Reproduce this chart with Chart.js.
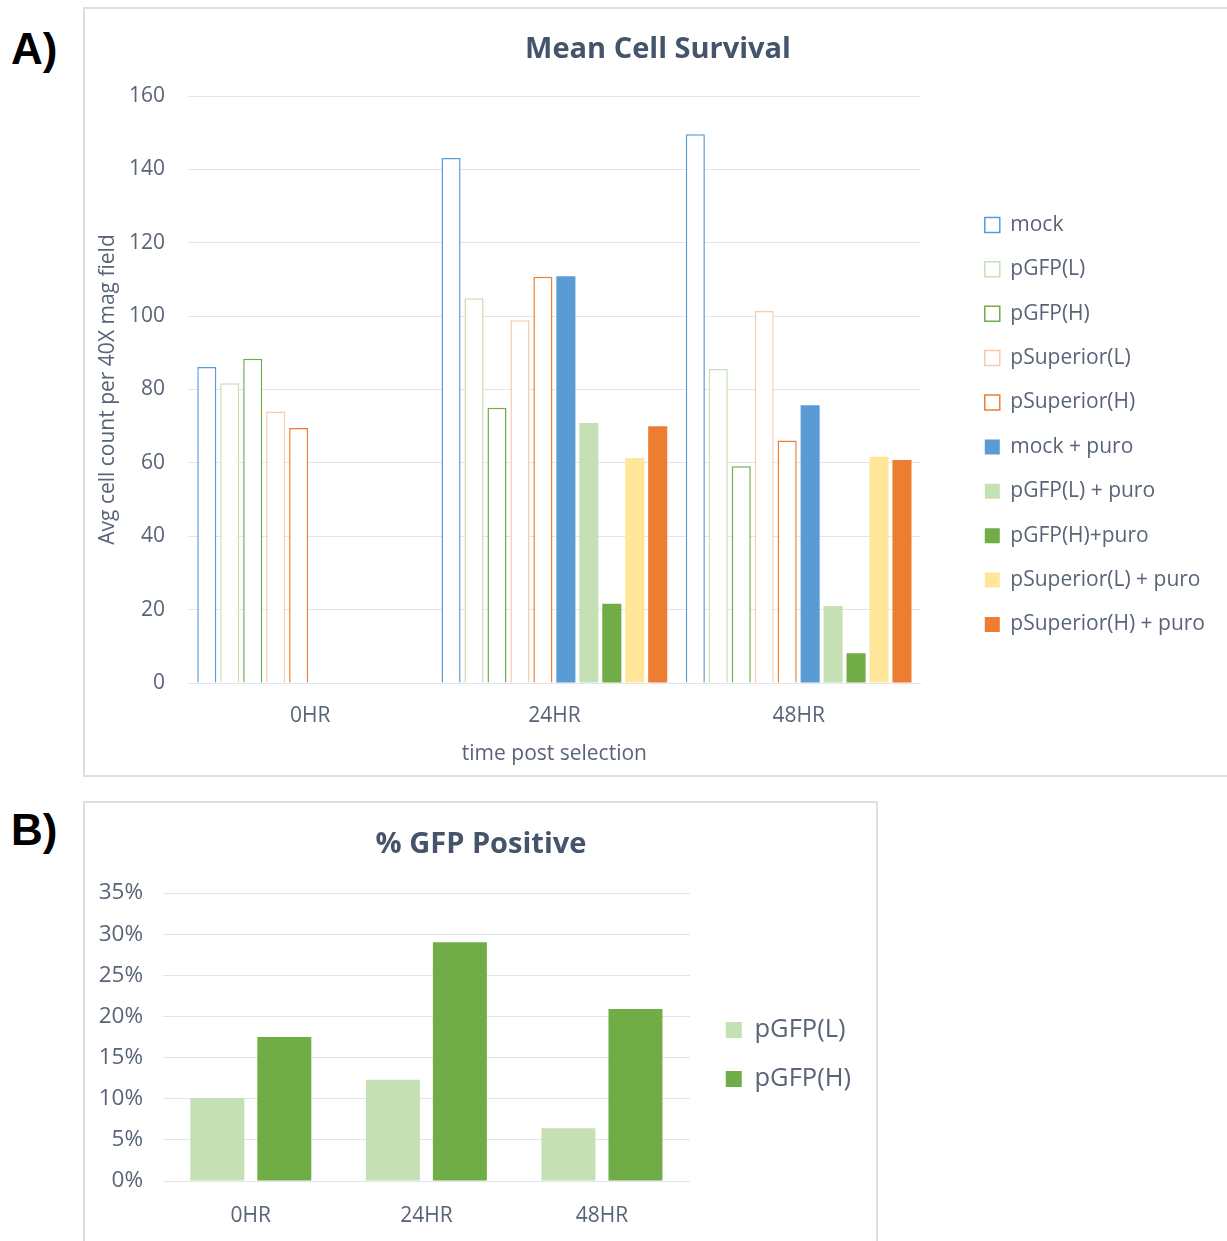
<!DOCTYPE html>
<html>
<head>
<meta charset="utf-8">
<script src="https://cdn.jsdelivr.net/npm/chart.js@4.4.1/dist/chart.umd.min.js"></script>
<style>
  html, body { margin: 0; padding: 0; background: #fff; overflow: hidden; }
  body { width: 1227px; height: 1241px; position: relative; }
  .panel { position: absolute; border: 2px solid #dedede; background: #fff; }
  .tag { position: absolute; font: bold 44px "Liberation Sans", Arial, sans-serif; line-height: 44px; color: #000; }
  canvas { position: absolute; }
</style>
</head>
<body>
<div class="tag" style="left:11px; top:27px;">A)</div>
<div class="tag" style="left:11px; top:808px;">B)</div>
<div class="panel" style="left:83px; top:7px; width:1160px; height:766px;"></div>
<div class="panel" style="left:83px; top:801px; width:791px; height:460px;"></div>
<canvas id="chartA" width="1130" height="764" style="left:85px; top:9px;"></canvas>
<canvas id="chartB" width="791" height="438" style="left:85px; top:803px;"></canvas>
<script>
// Panel A data
const timePoints = ['0HR', '24HR', '48HR'];
const seriesNames = ['mock', 'pGFP(L)', 'pGFP(H)', 'pSuperior(L)', 'pSuperior(H)',
  'mock + puro', 'pGFP(L) + puro', 'pGFP(H)+puro', 'pSuperior(L) + puro', 'pSuperior(H) + puro'];
const mock = [86.1, 143.1, 149.6];
const pGfpL = [81.7, 104.9, 85.6];
const pGfpH = [88.4, 75.0, 59.1];
const pSupL = [74.0, 98.9, 101.4];
const pSupH = [69.5, 110.7, 66.1];
const mockPuro = [null, 110.9, 75.7];
const pGfpLPuro = [null, 70.9, 21.0];
const pGfpHPuro = [null, 21.6, 8.1];
const pSupLPuro = [null, 61.3, 61.7];
const pSupHPuro = [null, 70.0, 60.8];
const survivalTicks = [0, 20, 40, 60, 80, 100, 120, 140, 160];

// Panel B data
const gfpNames = ['pGFP(L)', 'pGFP(H)'];
const gfpL = [0.101, 0.123, 0.064];
const gfpH = [0.175, 0.290, 0.209];
const percentTicks = [0, 0.05, 0.10, 0.15, 0.20, 0.25, 0.30, 0.35];

const textColor = '#596478';
const titleColor = '#44546a';
const gridColor = '#e1e4ea';
const FONT = '"Open Sans", "DejaVu Sans", sans-serif';

const blue = '#5b9bd5', lightGreen = '#c5e0b4', green = '#70ad47';
const peach = '#f8cbad', orange = '#ed7d31', yellow = '#ffe699';

function hollow(label, data, color) {
  return { label, data, backgroundColor: '#ffffff', borderColor: color, borderWidth: 1.5 };
}
function solid(label, data, color) {
  return { label, data, backgroundColor: color, borderColor: color, borderWidth: 0 };
}

// empty box on the right, used only as spacing
function spacer(width, weight) {
  return {
    position: 'right',
    weight: weight,
    grid: { display: false },
    border: { display: false },
    ticks: { display: false },
    afterFit: (scale) => { scale.width = width; }
  };
}

const survivalData = [mock, pGfpL, pGfpH, pSupL, pSupH, mockPuro, pGfpLPuro, pGfpHPuro, pSupLPuro, pSupHPuro];
const survivalColors = [blue, lightGreen, green, peach, orange, blue, lightGreen, green, yellow, orange];

const datasetsA = survivalData.map((d, i) => {
  const ds = i < 5 ? hollow(seriesNames[i], d, survivalColors[i]) : solid(seriesNames[i], d, survivalColors[i]);
  ds.categoryPercentage = 0.94;
  ds.barPercentage = 0.83;
  ds.yAxisID = 'y';
  return ds;
});

new Chart(document.getElementById('chartA'), {
  type: 'bar',
  data: { labels: timePoints, datasets: datasetsA },
  options: {
    responsive: false,
    animation: false,
    layout: { padding: { left: 16, right: 0, top: 0, bottom: 0 } },
    plugins: {
      title: {
        display: true,
        text: 'Mean Cell Survival',
        color: titleColor,
        font: { family: FONT, size: 29, weight: 'bold' },
        padding: { top: 23.6, bottom: 28.6 }
      },
      legend: {
        position: 'right',
        align: 'start',
        maxWidth: 400,
        title: { display: true, text: '', font: { size: 10 }, padding: { top: 170, bottom: 0 } },
        labels: {
          color: textColor,
          font: { family: FONT, size: 21 },
          boxWidth: 15,
          boxHeight: 15,
          padding: 23.4
        }
      },
      tooltip: { enabled: false }
    },
    scales: {
      x: {
        grid: { display: false },
        border: { display: true, color: gridColor, width: 1 },
        ticks: { color: textColor, font: { family: FONT, size: 21 }, padding: 12 },
        title: {
          display: true,
          text: 'time post selection',
          color: textColor,
          font: { family: FONT, size: 21 },
          padding: { top: 0, bottom: 6 }
        },
        afterFit: (scale) => { scale.height = 90; }
      },
      y: {
        min: 0,
        max: 160,
        afterBuildTicks: (scale) => { scale.ticks = survivalTicks.map(v => ({ value: v })); },
        grid: { color: gridColor, lineWidth: 1, drawTicks: false },
        border: { display: false },
        ticks: { color: textColor, font: { family: FONT, size: 21 }, padding: 23 },
        title: {
          display: true,
          text: 'Avg cell count per 40X mag field',
          color: textColor,
          font: { family: FONT, size: 21 },
          padding: { top: -5.6, bottom: 0 }
        },
        afterFit: (scale) => { scale.width = 87; }
      },
      gap: spacer(40.6, 0)
    }
  }
});

new Chart(document.getElementById('chartB'), {
  type: 'bar',
  data: {
    labels: timePoints,
    datasets: [
      { label: gfpNames[0], data: gfpL, backgroundColor: lightGreen, borderWidth: 0,
        categoryPercentage: 0.763, barPercentage: 0.806, yAxisID: 'y' },
      { label: gfpNames[1], data: gfpH, backgroundColor: green, borderWidth: 0,
        categoryPercentage: 0.763, barPercentage: 0.806, yAxisID: 'y' }
    ]
  },
  options: {
    responsive: false,
    animation: false,
    layout: { padding: { left: 10, right: 9, top: 0, bottom: 0 } },
    plugins: {
      title: {
        display: true,
        text: '% GFP Positive',
        color: titleColor,
        font: { family: FONT, size: 29, weight: 'bold' },
        padding: { top: 24.6, bottom: 30.6 }
      },
      legend: {
        position: 'right',
        align: 'start',
        maxWidth: 300,
        title: { display: true, text: '', font: { size: 10 }, padding: { top: 178.75, bottom: 0 } },
        labels: {
          color: textColor,
          font: { family: FONT, size: 25.5 },
          boxWidth: 16,
          boxHeight: 16,
          padding: 23.5
        }
      },
      tooltip: { enabled: false }
    },
    scales: {
      x: {
        grid: { display: false },
        border: { display: true, color: gridColor, width: 1 },
        ticks: { color: textColor, font: { family: FONT, size: 21 }, padding: 14 },
        afterFit: (scale) => { scale.height = 60; }
      },
      y: {
        min: 0,
        max: 0.35,
        afterBuildTicks: (scale) => { scale.ticks = percentTicks.map(v => ({ value: v })); },
        grid: { color: gridColor, lineWidth: 1, drawTicks: false },
        border: { display: false },
        ticks: {
          color: textColor,
          font: { family: FONT, size: 22.5 },
          padding: 20,
          callback: (v) => Math.round(v * 100) + '%'
        },
        afterFit: (scale) => { scale.width = 68; }
      },
      gap: spacer(12.5, 0),
      edge: spacer(6, 2000)
    }
  }
});
</script>
</body>
</html>
